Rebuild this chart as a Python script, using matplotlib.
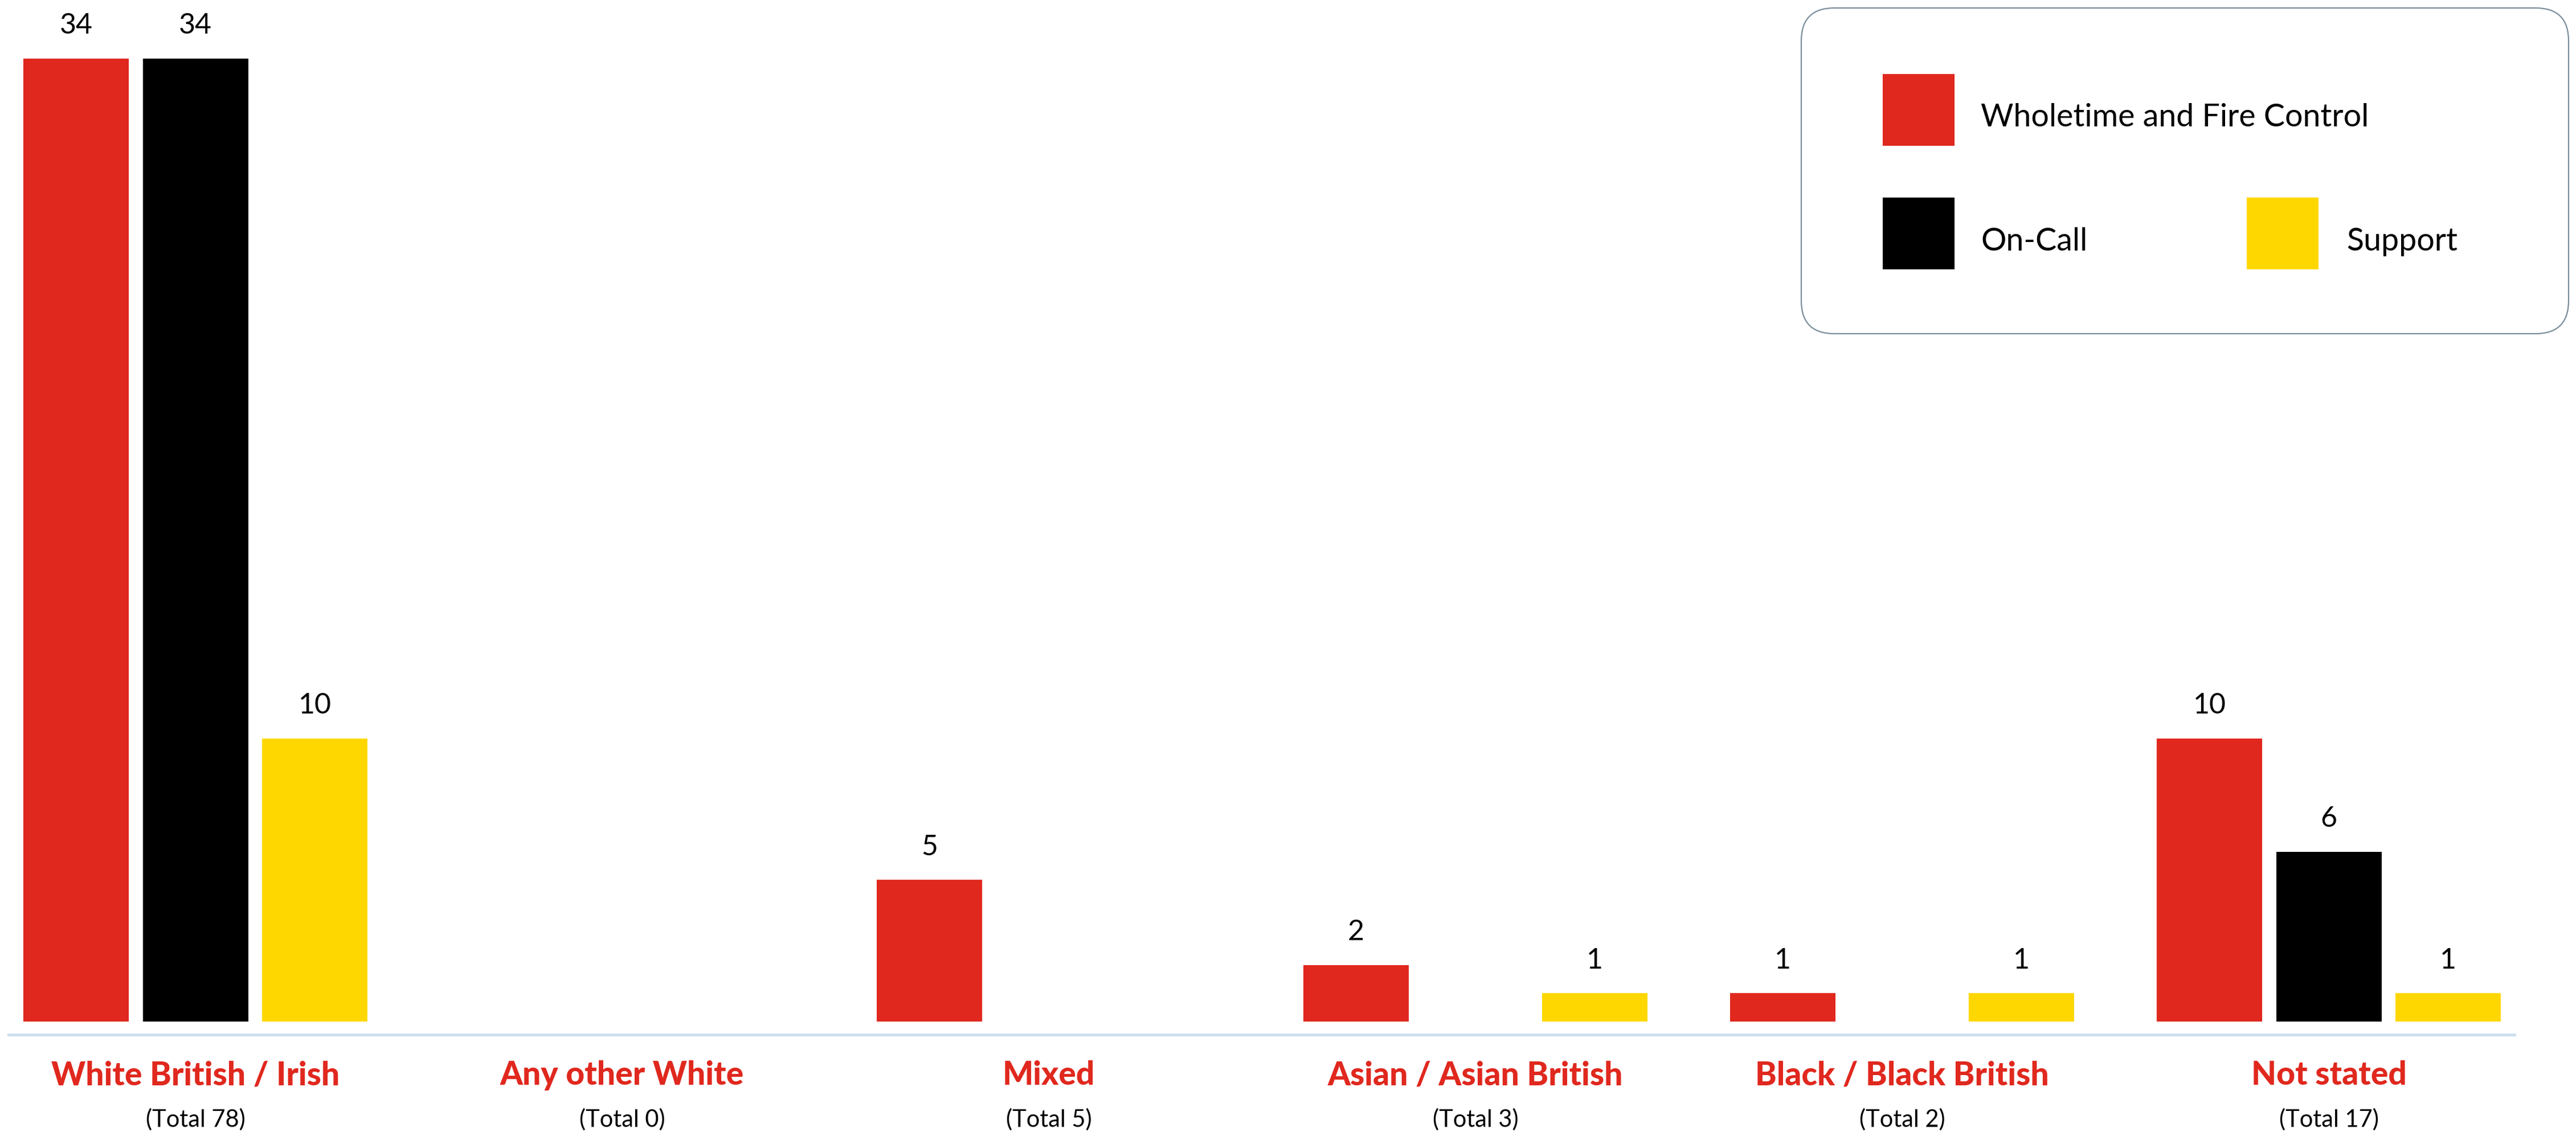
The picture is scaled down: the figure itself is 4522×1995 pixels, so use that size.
import matplotlib
matplotlib.use("Agg")
import matplotlib.pyplot as plt
from matplotlib.patches import FancyBboxPatch, Rectangle
from matplotlib.transforms import IdentityTransform, blended_transform_factory
import numpy as np

# --- data -------------------------------------------------------------
categories = ["White British / Irish", "Any other White", "Mixed",
              "Asian / Asian British", "Black / Black British", "Not stated"]
totals = [78, 0, 5, 3, 2, 17]
series_names = ["Wholetime and Fire Control", "On-Call", "Support"]
wholetime = [34, 0, 5, 2, 1, 10]
on_call = [34, 0, 0, 0, 0, 6]
support = [10, 0, 0, 1, 1, 1]

RED = "#e0281e"
BLACK = "#000000"
YELLOW = "#ffd700"
colors = [RED, BLACK, YELLOW]

W, H, DPI = 4522, 1995, 100
plt.rcParams["font.family"] = ["Lato", "DejaVu Sans"]

fig = plt.figure(figsize=(W / DPI, H / DPI), dpi=DPI)
fig.patch.set_facecolor("white")

# axes placed in pixel terms: baseline at y=1816.5 px from top
ax_left, ax_right = 15, 4414
ax_bottom_px = 1816.5
px_per_unit = 49.75
y_min = -(ax_bottom_px - 1794) / px_per_unit
y_max = 1794 / px_per_unit
ax = fig.add_axes([ax_left / W, (H - ax_bottom_px) / H,
                   (ax_right - ax_left) / W, ax_bottom_px / H])

group_px = 749.0
x0_px = 343.0
ax.set_xlim((ax_left - x0_px) / group_px, (ax_right - x0_px) / group_px)
ax.set_ylim(y_min, y_max)

x = np.arange(len(categories))
offset = 209.5 / group_px
bar_w = 185 / group_px

for j, vals in enumerate([wholetime, on_call, support]):
    xs = x + (j - 1) * offset
    ax.bar(xs, vals, width=bar_w, color=colors[j], linewidth=0, zorder=2)
    for xi, v in zip(xs, vals):
        if v > 0:
            ax.annotate(str(v), (xi, v), xytext=(0, 31), textcoords="offset points",
                        ha="center", va="baseline", fontsize=36, color="black")

for s in ["top", "left", "right"]:
    ax.spines[s].set_visible(False)
ax.spines["bottom"].set_color("#cfdfee")
ax.spines["bottom"].set_linewidth(3.6)
ax.set_xticks([])
ax.set_yticks([])
ax.patch.set_alpha(0)

# category labels under the baseline
trans = blended_transform_factory(ax.transData, fig.transFigure)
for xi, name, tot in zip(x, categories, totals):
    ax.text(xi, (H - 1905) / H, name, transform=trans, ha="center", va="baseline",
            fontsize=41, fontweight="black", color=RED, clip_on=False)
    ax.text(xi, (H - 1979) / H, f"(Total {tot})", transform=trans, ha="center",
            va="baseline", fontsize=30, color="black", clip_on=False)

# legend box, drawn in pixel coordinates
ident = IdentityTransform()
box = FancyBboxPatch((3162, H - 586), 1347, 572,
                     boxstyle="round,pad=0,rounding_size=58",
                     transform=ident, facecolor="white", edgecolor="#7a8e9b",
                     linewidth=1.6, zorder=5)
fig.patches.append(box)

legend_items = [
    (3305, 130, 3477, 222),
    (3305, 347, 3477, 440),
    (3944, 347, 4119, 440),
]
for (px, py, tx, ty), name, c in zip(legend_items, series_names, colors):
    fig.patches.append(Rectangle((px, H - py - 126), 126, 126, transform=ident,
                                 facecolor=c, edgecolor="none", zorder=6))
    fig.text(tx / W, (H - ty) / H, name, ha="left", va="baseline",
             fontsize=40, color="black", zorder=7)

fig.savefig("out.png", dpi=DPI, facecolor="white")
